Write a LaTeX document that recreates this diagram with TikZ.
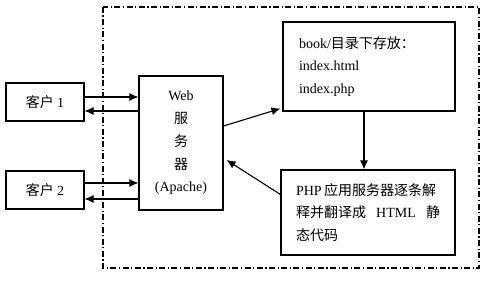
\documentclass[tikz,border=0pt]{standalone}
\usepackage{fontspec}
\setmainfont{Liberation Serif}
\newfontfamily\cjk{Noto Sans CJK SC}
\newcommand{\zh}[1]{{\cjk #1}}
\usetikzlibrary{
    positioning,
    arrows.meta
}
\tikzset{
    >={Latex[length=9pt,width=8pt]},
    box/.style={
        draw,
        line width=1.1pt,
        inner sep=0pt
    },
    frame/.style={
        draw,
        line width=1.1pt,
        dash pattern=on 6pt off 2.5pt on 1.2pt off 2.5pt
    },
    arr/.style={
        ->,
        line width=1.1pt
    }
}

\begin{document}
\begin{tikzpicture}[
    x=1pt,
    y=-1pt,
    font=\fontsize{14}{22.7}\selectfont
]

    % Rahmen
    \useasboundingbox (0,0) rectangle (498,288);
    \coordinate (fa) at (103,7);
    \coordinate (fb) at (479,268);
    \draw[frame] (fa) rectangle (fb);

    % Clients
    \node[box, minimum width=78pt, minimum height=38pt] (c1) at (45,102) {\zh{客户} 1};
    \node[box, minimum width=78pt, minimum height=38pt] (c2) at (45,190) {\zh{客户} 2};

    % Web-Server
    \node[box, minimum width=84pt, minimum height=134pt, align=center]
        (web) at (181,143) {Web\\\zh{服}\\\zh{务}\\\zh{器}\\(Apache)};

    % Verzeichnis
    \node[box, minimum width=172pt, minimum height=89pt, text width=140pt,
          inner xsep=16pt, align=left]
        (book) at (369,66.5) {book/\zh{目录下存放：}\\index.html\\index.php};

    % PHP
    \node[box, minimum width=174pt, minimum height=85pt, text width=144pt,
          inner xsep=15pt, align=left]
        (php) at (368,212.5)
        {PHP\,\zh{应用服务器逐条解}\\\zh{释并翻译成}\hfill HTML\hfill\zh{静}\\\zh{态代码}};

    % Verbindungen
    \draw[arr] ([yshift=5pt]c1.east) -- ([yshift=5pt]c1.east -| web.west);
    \draw[arr] ([yshift=-9pt]c1.east -| web.west) -- ([yshift=-9pt]c1.east);
    \draw[arr] ([yshift=7pt]c2.east) -- ([yshift=7pt]c2.east -| web.west);
    \draw[arr] ([yshift=-9pt]c2.east -| web.west) -- ([yshift=-9pt]c2.east);

    \draw[arr] ([yshift=17pt]web.east) -- ([yshift=3pt,xshift=-2pt]book.south west);
    \draw[arr] ([xshift=-5pt]book.south) -- ([xshift=-5pt]book.south |- php.north);
    \draw[arr] ([yshift=18pt]php.west) -- ([yshift=-17pt,xshift=3pt]web.east);

\end{tikzpicture}
\end{document}
